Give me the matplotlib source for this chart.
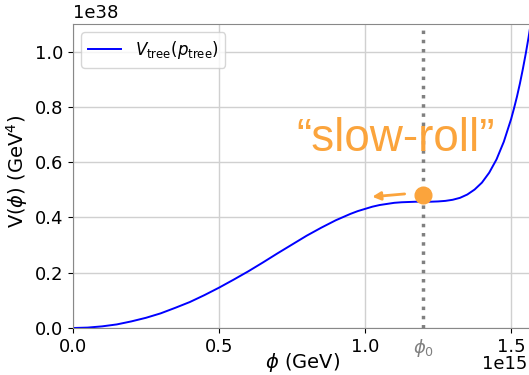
import matplotlib.pyplot as plt

# values (phi in 1e15 GeV, V in 1e38 GeV^4)
phi = [0.0, 0.05, 0.10, 0.15, 0.20, 0.25, 0.30, 0.35, 0.40, 0.45,
       0.50, 0.55, 0.60, 0.65, 0.70, 0.75, 0.80, 0.85, 0.90, 0.95,
       0.975, 1.00, 1.025, 1.05, 1.075, 1.10, 1.125, 1.15, 1.175, 1.20,
       1.225, 1.25, 1.275, 1.30, 1.325, 1.35, 1.375, 1.40, 1.425, 1.45,
       1.475, 1.50, 1.51, 1.52, 1.53, 1.54, 1.55, 1.56, 1.57]
V = [0.000, 0.0015, 0.006, 0.013, 0.024, 0.037, 0.053, 0.073, 0.094, 0.119,
     0.146, 0.175, 0.205, 0.237, 0.270, 0.302, 0.334, 0.363, 0.390, 0.413,
     0.423, 0.431, 0.439, 0.445, 0.449, 0.453, 0.455, 0.456, 0.457, 0.457,
     0.457, 0.458, 0.460, 0.464, 0.471, 0.483, 0.501, 0.526, 0.562, 0.610,
     0.674, 0.756, 0.795, 0.837, 0.884, 0.936, 0.992, 1.053, 1.120]

phi0 = 1.2
dot = (1.2, 0.483)
arrow_from = (1.145, 0.486)
arrow_to = (1.015, 0.474)

orange = '#FBA43C'

fig = plt.figure(figsize=(5.29, 3.75), dpi=100)
ax = fig.add_axes([0.138, 0.1253, 0.866, 0.8107])

ax.plot(phi, V, color='blue', lw=1.4, label=r'$V_{\rm tree}(p_{\rm tree})$')
ax.axvline(phi0, color='gray', ls=':', lw=2.5)
ax.plot(dot[0], dot[1], 'o', color=orange, ms=12)
ax.annotate('', xy=arrow_to, xytext=arrow_from,
            arrowprops=dict(arrowstyle='-|>', color=orange, lw=2, mutation_scale=12))
ax.text(1.103, 0.685, '\u201cslow-roll\u201d', color=orange, fontsize=33,
        family='Liberation Sans', ha='center', va='center')
ax.text(phi0, -0.066, r'$\phi_0$', color='gray', fontsize=13,
        ha='center', va='center', transform=ax.get_xaxis_transform())

ax.set_xlim(0, 1.5685)
ax.set_ylim(0, 1.1)
ax.set_xticks([0, 0.5, 1.0, 1.5])
ax.set_yticks([0, 0.2, 0.4, 0.6, 0.8, 1.0])
ax.grid(True, color='#d0d0d0', lw=1)
ax.tick_params(labelsize=13, colors='black')
for s in ax.spines.values():
    s.set_color('#888888')

# scale factors shown like matplotlib offset texts
ax.text(0, 1.008, '1e38', fontsize=13, ha='left', va='bottom', transform=ax.transAxes)
fig.text(0.997, 1 - 364 / 375, '1e15', fontsize=13, ha='right', va='center')

ax.set_xlabel(r'$\phi$ (GeV)', fontsize=14)
ax.xaxis.set_label_coords(0.5, -0.112)
ax.xaxis.label.set_va('center')
ax.set_ylabel(r'V($\phi$) (GeV$^4$)', fontsize=14)
ax.yaxis.set_label_coords(-0.123, 0.516)
ax.yaxis.label.set_va('center')
ax.legend(loc='upper left', fontsize=12)

plt.savefig('out.png', dpi=100)
